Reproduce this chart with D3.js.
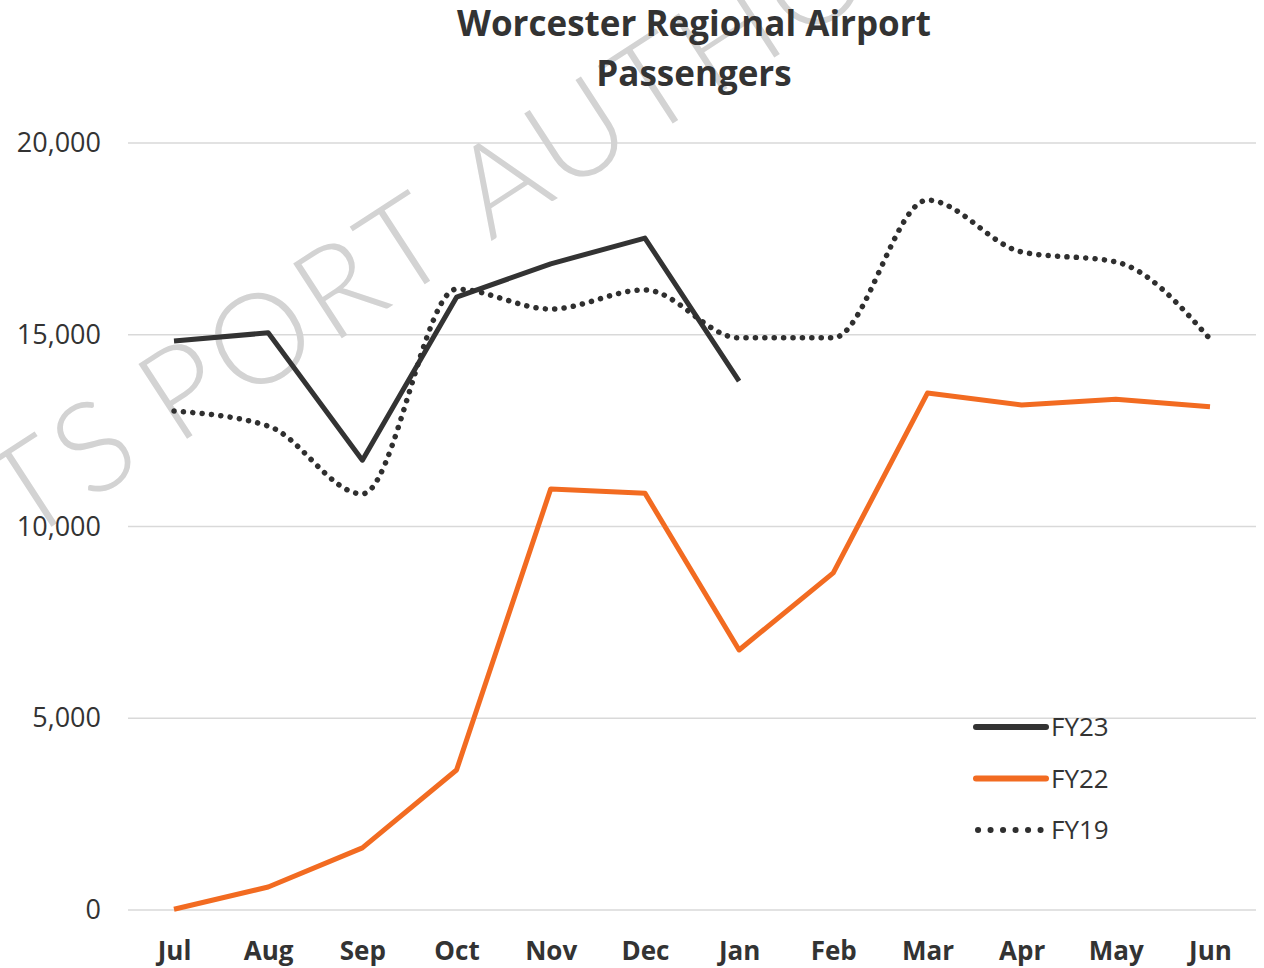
<!DOCTYPE html>
<html>
<head>
<meta charset="utf-8">
<script src="https://cdn.jsdelivr.net/npm/d3@7"></script>
<style>
  html, body { margin: 0; padding: 0; background: #fff; }
  svg { display: block; }
  text { font-family: "Open Sans", Lato, sans-serif; }
</style>
</head>
<body>
<svg id="chart" width="1264" height="968"></svg>
<script>
// data
var months = ["Jul", "Aug", "Sep", "Oct", "Nov", "Dec", "Jan", "Feb", "Mar", "Apr", "May", "Jun"];
var fy23 = [14840, 15050, 11730, 15980, 16850, 17520, 13790];
var fy22 = [20, 600, 1620, 3650, 10980, 10870, 6780, 8790, 13480, 13170, 13320, 13120];
var fy19 = [13010, 12620, 10850, 16190, 15670, 16170, 14920, 14920, 18510, 17160, 16900, 14890];
var yTicks = [0, 5000, 10000, 15000, 20000];

var series = [
  { name: "FY23", values: fy23, color: "#333333", dash: null, smooth: false },
  { name: "FY22", values: fy22, color: "#F26B21", dash: null, smooth: false },
  { name: "FY19", values: fy19, color: "#2f2f2f", dash: "0.1,9.3", smooth: true }
];

var svg = d3.select("#chart");

var x = d3.scalePoint().domain(months).range([174, 1210]);
var y = d3.scaleLinear().domain([0, 20000]).range([910, 143]);

// gridlines
svg.append("g")
  .selectAll("line")
  .data(yTicks).enter()
  .append("line")
  .attr("x1", 128).attr("x2", 1256)
  .attr("y1", function(d) { return y(d); })
  .attr("y2", function(d) { return y(d); })
  .attr("stroke", "#d9d9d9")
  .attr("stroke-width", 1.5);

// watermark
var wm = svg.append("g")
  .attr("transform", "translate(176,446) rotate(-33)")
  .attr("fill", "#d3d3d3")
  .style("font-weight", 300)
  .style("font-size", "126px")
  .style("letter-spacing", "6px");
wm.append("text").attr("x", 0).attr("y", 0).style("font-family", "Lato, sans-serif").text("PORT AUTHORITY");
wm.append("text").attr("x", -30).attr("y", 0).style("font-family", "Lato, sans-serif").attr("text-anchor", "end").text("MASSACHUSETTS");

// title
var title = svg.append("text")
  .attr("text-anchor", "middle")
  .attr("fill", "#333333")
  .style("font-weight", 700)
  .style("font-size", "35px");
title.append("tspan").attr("x", 694).attr("y", 36).text("Worcester Regional Airport");
title.append("tspan").attr("x", 694).attr("y", 86).text("Passengers");

// y axis
var yAxis = svg.append("g")
  .attr("transform", "translate(101,0)")
  .call(d3.axisLeft(y).tickValues(yTicks).tickSize(0).tickPadding(0).tickFormat(d3.format(",")));
yAxis.select(".domain").remove();
yAxis.selectAll("text")
  .attr("fill", "#333333")
  .attr("font-family", null)
  .style("font-size", "27px");

// x axis
var xAxis = svg.append("g")
  .attr("transform", "translate(0,960)")
  .call(d3.axisBottom(x).tickSize(0).tickPadding(0));
xAxis.select(".domain").remove();
xAxis.selectAll("text")
  .attr("fill", "#333333")
  .attr("font-family", null)
  .attr("dy", 0)
  .style("font-weight", 700)
  .style("font-size", "26px");

// lines
series.forEach(function(s) {
  var line = d3.line()
    .x(function(d, i) { return x(months[i]); })
    .y(function(d) { return y(d); })
    .curve(s.smooth ? d3.curveMonotoneX : d3.curveLinear);
  svg.append("path")
    .datum(s.values)
    .attr("d", line)
    .attr("fill", "none")
    .attr("stroke", s.color)
    .attr("stroke-width", s.dash ? 5.5 : 5)
    .attr("stroke-linecap", s.dash ? "round" : "butt")
    .attr("stroke-linejoin", "round")
    .attr("stroke-dasharray", s.dash);
});

// legend
var legend = svg.append("g")
  .selectAll("g")
  .data(series).enter()
  .append("g")
  .attr("transform", function(d, i) { return "translate(976," + (727 + i * 51.5) + ")"; });
legend.append("line")
  .attr("x1", function(d) { return d.dash ? 2 : 0; })
  .attr("x2", function(d) { return d.dash ? 66 : 70; })
  .attr("stroke", function(d) { return d.color; })
  .attr("stroke-width", 6)
  .attr("stroke-linecap", "round")
  .attr("stroke-dasharray", function(d) { return d.dash ? "0.1,12.4" : null; });
legend.append("text")
  .attr("x", 75)
  .attr("dy", "0.36em")
  .attr("fill", "#333333")
  .style("font-size", "26px")
  .text(function(d) { return d.name; });
</script>
</body>
</html>
